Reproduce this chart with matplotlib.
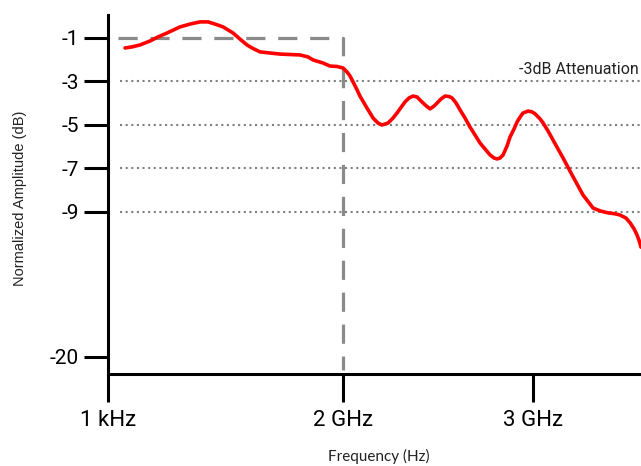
import matplotlib
matplotlib.use('Agg')
import matplotlib.pyplot as plt
import numpy as np

# Frequency (GHz, 1 kHz ~ 0) and normalized amplitude (dB)
freq = [0.145, 0.204, 0.272, 0.357, 0.426, 0.502, 0.613, 0.698, 0.783, 0.851,
        0.911, 0.979, 1.064, 1.123, 1.183, 1.226, 1.294, 1.379, 1.464, 1.549,
        1.634, 1.702, 1.745, 1.830, 1.889, 1.949, 2.000, 2.021, 2.037, 2.053,
        2.074, 2.089, 2.126, 2.158, 2.184, 2.205, 2.237, 2.263, 2.284, 2.326,
        2.347, 2.368, 2.389, 2.405, 2.432, 2.458, 2.479, 2.495, 2.516, 2.537,
        2.558, 2.574, 2.595, 2.616, 2.642, 2.668, 2.721, 2.774, 2.795, 2.811,
        2.826, 2.842, 2.863, 2.879, 2.900, 2.916, 2.932, 2.947, 2.974, 2.995,
        3.011, 3.037, 3.053, 3.079, 3.105, 3.158, 3.211, 3.263, 3.316, 3.353,
        3.389, 3.432, 3.458, 3.489, 3.511, 3.532, 3.547, 3.558, 3.568]
amp = [-1.46, -1.41, -1.32, -1.14, -0.95, -0.77, -0.49, -0.36, -0.26, -0.26,
       -0.36, -0.49, -0.77, -1.05, -1.32, -1.46, -1.64, -1.69, -1.74, -1.76,
       -1.78, -1.87, -2.01, -2.15, -2.29, -2.31, -2.38, -2.56, -2.75, -3.02,
       -3.39, -3.67, -4.22, -4.68, -4.91, -5.00, -4.91, -4.68, -4.45, -3.94,
       -3.76, -3.67, -3.71, -3.85, -4.08, -4.26, -4.13, -3.99, -3.80, -3.67,
       -3.69, -3.76, -3.99, -4.31, -4.68, -5.09, -5.83, -6.38, -6.52, -6.56,
       -6.52, -6.38, -5.97, -5.55, -5.18, -4.86, -4.63, -4.45, -4.36, -4.40,
       -4.49, -4.72, -4.91, -5.28, -5.69, -6.52, -7.39, -8.22, -8.82, -8.95,
       -9.05, -9.14, -9.23, -9.46, -9.83, -10.29, -10.75, -11.16, -11.67]

x_ticks = [0, 2, 3]
x_labels = ['1 kHz', '2 GHz', '3 GHz']
y_ticks = [-1, -3, -5, -7, -9, -20]
grid_levels = [-3, -5, -7, -9]
cutoff_freq = 2
cutoff_amp = -1


# piecewise scales (axis is not linear in the original)
def fx(x):
    x = np.asarray(x, dtype=float)
    return np.where(x <= 2, x * 117.5, 235 + (x - 2) * 190)


def fx_inv(p):
    p = np.asarray(p, dtype=float)
    return np.where(p <= 235, p / 117.5, 2 + (p - 235) / 190)


K = 6.667 / 11


def fy(y):
    y = np.asarray(y, dtype=float)
    return np.where(y >= -9, y, -9 + (y + 9) * K)


def fy_inv(p):
    p = np.asarray(p, dtype=float)
    return np.where(p >= -9, p, -9 + (p + 9) / K)


fig = plt.figure(figsize=(6.41, 4.66), dpi=100)
ax = fig.add_axes([108 / 641, 92 / 466, 533 / 641, 359 / 466])
ax.set_xscale('function', functions=(fx, fx_inv))
ax.set_yscale('function', functions=(fy, fy_inv))
ax.set_xlim(0, 3.568)
ax.set_ylim(-21.29, 0.057)

# dotted guide lines
for lvl in grid_levels:
    ax.plot([0.1, 3.568], [lvl, lvl], color='#808080', lw=1.5,
            linestyle=(0, (1, 1.7)), zorder=1)

# dashed cutoff box
ax.plot([0.085, cutoff_freq, cutoff_freq], [cutoff_amp, cutoff_amp, -21.0],
        color='#8a8a8a', lw=2.3, dashes=(6, 4), zorder=2)

ax.plot(freq, amp, color='#ff0000', lw=2.6, solid_joinstyle='round',
        solid_capstyle='round', zorder=3)

ax.text(3.555, -2.45, '-3dB Attenuation', ha='right', va='center',
        fontsize=11.5, family='Roboto', color='#222222')

for s in ['top', 'right']:
    ax.spines[s].set_visible(False)
for s in ['left', 'bottom']:
    ax.spines[s].set_linewidth(2.2)
    ax.spines[s].set_color('black')

ax.set_xticks(x_ticks)
ax.set_xticklabels(x_labels)
ax.set_yticks(y_ticks)
ax.set_yticklabels([str(v) for v in y_ticks])
ax.tick_params(axis='x', length=20, width=2.2, pad=6, labelsize=16)
ax.tick_params(axis='y', length=17, width=2.2, pad=4, labelsize=15)
for lab in ax.get_xticklabels() + ax.get_yticklabels():
    lab.set_family('Roboto')

fig.text(20 / 641, 1 - 198 / 466, 'Normalized Amplitude (dB)', rotation=90,
         ha='center', va='center', fontsize=10.5, family='Liberation Sans',
         color='#222222')
fig.text(379 / 641, 1 - 456 / 466, 'Frequency (Hz)', ha='center', va='center',
         fontsize=11, family='Lato', color='#222222')

fig.savefig('out.png', dpi=100)
